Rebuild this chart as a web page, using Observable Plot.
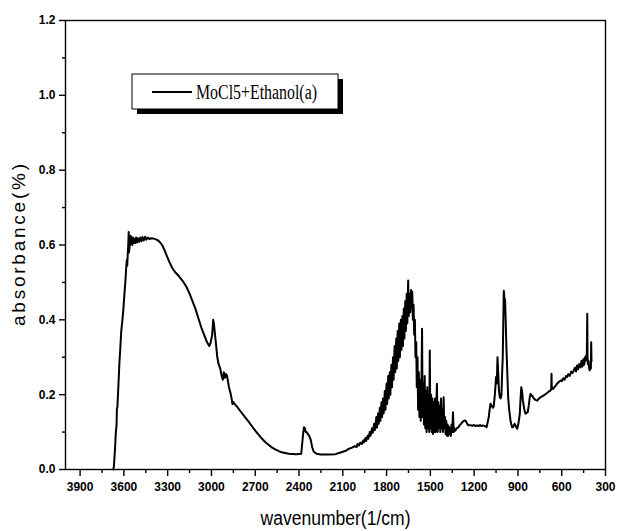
<!DOCTYPE html>
<html>
<head>
<meta charset="utf-8">
<script src="https://cdn.jsdelivr.net/npm/d3@7"></script>
<script src="https://cdn.jsdelivr.net/npm/@observablehq/plot@0.6"></script>
<style>
  html, body { margin: 0; padding: 0; background: #fff; }
</style>
</head>
<body>
<div id="chart"></div>
<script>
// Wavenumber (1/cm)
const wavenumber = [
  3672,3668,3660,3655,3650,3648,3644,3638,3630,3625,3618,3610,3605,3598,3590,3584,3580,3577,3574,3570,
  3567,3565,3562,3560,3557,3554,3550,3546,3542,3538,3533,3528,3522,3516,3510,3504,3496,3488,3480,3472,
  3464,3455,3446,3436,3425,3410,3395,3380,3365,3350,3335,3320,3305,3290,3270,3250,3230,3210,3190,3170,
  3150,3130,3110,3090,3070,3050,3030,3015,3005,2995,2988,2983,2978,2970,2960,2950,2940,2930,2922,2915,
  2908,2900,2893,2880,2870,2862,2856,2850,2840,2825,2800,2770,2740,2700,2660,2630,2590,2560,2520,2470,
  2420,2385,2378,2372,2366,2360,2354,2348,2340,2330,2320,2310,2300,2280,2250,2200,2150,2110,2080,2060,
  2040,2020,2005,2000,1990,1980,1970,1960,1955,1945,1940,1930,1925,1915,1910,1900,1895,1885,1880,1870,
  1866,1858,1854,1846,1842,1835,1831,1824,1820,1812,1808,1800,1796,1789,1785,1778,1774,1767,1763,1756,
  1752,1745,1741,1734,1730,1724,1720,1713,1709,1702,1698,1692,1688,1682,1678,1672,1668,1662,1658,1652,
  1648,1642,1638,1632,1628,1624,1620,1615,1611,1606,1602,1597,1593,1588,1584,1579,1575,1570,1566,1561,
  1557,1553,1548,1544,1539,1535,1530,1526,1521,1517,1512,1508,1504,1500,1495,1491,1486,1482,1477,1473,
  1468,1464,1459,1455,1450,1445,1441,1436,1432,1427,1423,1418,1414,1409,1405,1400,1396,1391,1387,1382,
  1378,1373,1369,1364,1360,1355,1350,1345,1340,1335,1328,1320,1310,1300,1290,1282,1270,1260,1250,1240,
  1225,1210,1200,1190,1180,1170,1160,1150,1140,1125,1115,1108,1100,1094,1088,1080,1072,1066,1058,1050,
  1045,1040,1035,1030,1024,1018,1013,1008,1004,1000,997,993,988,984,979,973,967,960,951,945,
  940,933,928,922,917,911,905,898,892,887,882,877,872,866,860,855,848,840,833,826,
  820,814,807,800,791,780,768,755,740,723,705,690,677,672,670,668,660,650,640,630,
  620,608,600,590,580,570,563,555,545,535,525,517,510,502,495,488,480,471,465,458,
  452,446,441,437,432,428,425,423,421,416,412,408,404,400,398,396,395
];
// Absorbance (same order)
const absorbance = [
  0.0,0.01,0.06,0.10,0.12,0.16,0.17,0.22,0.29,0.32,0.37,0.40,0.42,0.46,0.50,0.54,0.56,0.545,0.57,0.60,
  0.635,0.58,0.59,0.62,0.60,0.625,0.605,0.62,0.60,0.62,0.605,0.617,0.605,0.62,0.607,0.618,0.608,0.62,0.61,0.621,
  0.612,0.622,0.614,0.62,0.616,0.618,0.617,0.615,0.612,0.606,0.598,0.585,0.57,0.556,0.54,0.528,0.52,0.51,0.50,0.487,
  0.47,0.45,0.43,0.405,0.38,0.36,0.34,0.33,0.34,0.36,0.40,0.39,0.37,0.34,0.30,0.28,0.27,0.25,0.24,0.26,
  0.245,0.255,0.25,0.22,0.205,0.19,0.175,0.18,0.175,0.168,0.155,0.14,0.125,0.104,0.085,0.073,0.06,0.053,0.046,0.042,
  0.041,0.042,0.07,0.095,0.113,0.11,0.10,0.10,0.095,0.09,0.08,0.06,0.048,0.042,0.04,0.04,0.041,0.046,0.05,0.055,
  0.058,0.062,0.06,0.068,0.064,0.072,0.068,0.078,0.072,0.084,0.076,0.09,0.082,0.10,0.09,0.11,0.098,0.122,0.105,0.14,
  0.112,0.15,0.122,0.165,0.13,0.18,0.14,0.19,0.15,0.21,0.16,0.23,0.175,0.25,0.19,0.26,0.20,0.28,0.22,0.30,
  0.24,0.33,0.26,0.35,0.27,0.37,0.29,0.39,0.30,0.40,0.32,0.41,0.33,0.43,0.35,0.45,0.37,0.47,0.39,0.505,
  0.41,0.47,0.42,0.48,0.43,0.475,0.40,0.44,0.36,0.40,0.30,0.34,0.22,0.30,0.16,0.26,0.14,0.24,0.13,0.22,
  0.376,0.14,0.23,0.12,0.25,0.11,0.21,0.10,0.22,0.11,0.20,0.10,0.318,0.11,0.20,0.10,0.19,0.095,0.18,0.10,
  0.19,0.10,0.17,0.229,0.10,0.18,0.11,0.17,0.10,0.19,0.11,0.16,0.10,0.193,0.11,0.14,0.095,0.13,0.09,0.12,
  0.09,0.115,0.095,0.11,0.09,0.12,0.10,0.153,0.10,0.11,0.104,0.11,0.112,0.118,0.122,0.126,0.13,0.131,0.124,0.118,
  0.118,0.117,0.119,0.116,0.118,0.116,0.119,0.116,0.118,0.116,0.113,0.125,0.14,0.16,0.176,0.17,0.165,0.168,0.20,0.247,
  0.23,0.30,0.26,0.21,0.193,0.19,0.20,0.26,0.30,0.40,0.478,0.46,0.452,0.40,0.327,0.26,0.193,0.16,0.131,0.12,
  0.113,0.113,0.118,0.122,0.118,0.113,0.109,0.12,0.135,0.149,0.19,0.22,0.21,0.184,0.17,0.158,0.149,0.152,0.153,0.17,
  0.19,0.202,0.198,0.196,0.19,0.186,0.184,0.19,0.194,0.198,0.203,0.208,0.211,0.215,0.256,0.22,0.215,0.22,0.225,0.23,
  0.234,0.238,0.236,0.244,0.24,0.25,0.247,0.255,0.25,0.262,0.258,0.265,0.272,0.262,0.278,0.268,0.282,0.273,0.29,0.275,
  0.295,0.28,0.30,0.29,0.305,0.30,0.416,0.30,0.282,0.29,0.27,0.265,0.28,0.27,0.34,0.291,0.29
];
const xTicks = [3900,3600,3300,3000,2700,2400,2100,1800,1500,1200,900,600,300];
const xMinor = [3750,3450,3150,2850,2550,2250,1950,1650,1350,1050,750,450];
const yTicks = [0.0,0.2,0.4,0.6,0.8,1.0,1.2];
const yMinor = [0.1,0.3,0.5,0.7,0.9,1.1];
const seriesName = "MoCl5+Ethanol(a)";
const xLabel = "wavenumber(1/cm)";
const yLabel = "absorbance(%)";

const data = wavenumber.map((w, i) => ({wn: w, a: absorbance[i]}));
const tickFont = "'Liberation Sans Narrow', 'Arial Narrow', 'Liberation Sans', sans-serif";

const chart = Plot.plot({
  width: 617,
  height: 531,
  marginLeft: 65,
  marginRight: 12,
  marginTop: 20,
  marginBottom: 62,
  style: {fontFamily: tickFont, fontSize: "12px", fontWeight: "bold", color: "#000", background: "#fff"},
  x: {domain: [4000, 300]},
  y: {domain: [0, 1.2]},
  marks: [
    Plot.frame({stroke: "#000", strokeWidth: 1.4}),
    Plot.axisX({ticks: xTicks, tickSize: 7, tickPadding: 6, tickFormat: d => String(d), label: null, strokeWidth: 1.4}),
    Plot.axisX({ticks: xMinor, tickSize: 4, text: null, label: null, strokeWidth: 1.4}),
    Plot.axisY({ticks: yTicks, tickSize: 6, tickPadding: 4, tickFormat: d => d.toFixed(1), label: null, strokeWidth: 1.4}),
    Plot.axisY({ticks: yMinor, tickSize: 3, text: null, label: null, strokeWidth: 1.4}),
    Plot.line(data, {x: "wn", y: "a", stroke: "#000", strokeWidth: 2}),
    Plot.text([xLabel], {frameAnchor: "bottom", textAnchor: "middle", lineAnchor: "middle", dy: 49, fontSize: 20,
      fontWeight: "normal", fontFamily: "'Liberation Sans Narrow', 'Liberation Sans', sans-serif"}),
    Plot.text([yLabel], {frameAnchor: "left", textAnchor: "middle", lineAnchor: "middle", dx: -47, rotate: -90,
      fontSize: 19, fontWeight: "normal", fontFamily: "'Liberation Sans', Arial, sans-serif"})
  ]
});
document.getElementById("chart").appendChild(chart);

const svg = d3.select(chart);
// stretch / condense the axis titles to the widths seen in the reference
svg.selectAll("text").filter(function() { return this.textContent === yLabel; })
  .attr("textLength", 162).attr("lengthAdjust", "spacing");
svg.selectAll("text").filter(function() { return this.textContent === xLabel; })
  .attr("textLength", 150).attr("lengthAdjust", "spacingAndGlyphs");

// Legend box with drop shadow
const lg = svg.append("g").attr("text-anchor", "start");
lg.append("rect").attr("x", 137).attr("y", 79).attr("width", 206).attr("height", 35).attr("fill", "#000");
lg.append("rect").attr("x", 132).attr("y", 74).attr("width", 206).attr("height", 35)
  .attr("fill", "#fff").attr("stroke", "#000").attr("stroke-width", 1);
lg.append("line").attr("x1", 152).attr("x2", 192).attr("y1", 92).attr("y2", 92)
  .attr("stroke", "#000").attr("stroke-width", 2);
lg.append("text").attr("x", 196).attr("y", 99).attr("text-anchor", "start")
  .attr("font-family", "'Liberation Serif', 'Times New Roman', serif")
  .attr("font-size", 20).attr("font-weight", "normal")
  .attr("textLength", 121).attr("lengthAdjust", "spacingAndGlyphs")
  .text(seriesName);
</script>
</body>
</html>
